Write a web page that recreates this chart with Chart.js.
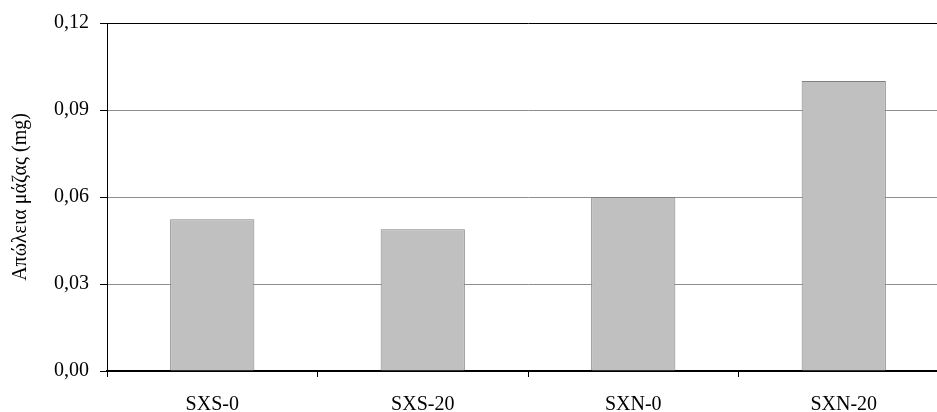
<!DOCTYPE html>
<html lang="el">
<head>
    <meta charset="UTF-8">
    <title>Απώλεια μάζας</title>
    <style>
        html, body { margin: 0; padding: 0; background: #fff; overflow: hidden; }
        #grafico { display: block; }
    </style>
</head>
<body>
    <canvas id="grafico" width="960" height="412"></canvas>

<script src="https://cdn.jsdelivr.net/npm/chart.js"></script>
<script>
// dados
const categorias = ['SXS-0', 'SXS-20', 'SXN-0', 'SXN-20'];
const perdaMassa = [0.0523, 0.0489, 0.06, 0.1];
const yTicks = [0, 0.03, 0.06, 0.09, 0.12];
const yTickLabels = ['0,00', '0,03', '0,06', '0,09', '0,12'];
const tituloY = 'Απώλεια μάζας (mg)';

const fonte = { family: "'Liberation Serif', 'Times New Roman', serif", size: 20 };

const config = {
    type: 'bar',
    data: {
        labels: categorias,
        datasets: [{
            label: tituloY,
            data: perdaMassa,
            backgroundColor: '#c0c0c0',
            borderColor: '#808080',
            borderWidth: 1,
            categoryPercentage: 1,
            barPercentage: 0.4
        }]
    },
    options: {
        responsive: false,
        animation: false,
        layout: { padding: { top: 23, right: 11, left: 0, bottom: 0 } },
        plugins: {
            legend: { display: false },
            tooltip: { enabled: false }
        },
        scales: {
            x: {
                grid: {
                    offset: true,
                    drawOnChartArea: false,
                    drawTicks: true,
                    tickLength: 6,
                    tickColor: '#000'
                },
                border: { color: '#000', width: 2 },
                ticks: { color: '#000', font: fonte, padding: 16, maxRotation: 0 },
                afterFit: function (scale) { scale.height = 41; }
            },
            y: {
                min: 0,
                max: 0.12,
                afterBuildTicks: function (scale) {
                    scale.ticks = yTicks.map(v => ({ value: v }));
                },
                grid: {
                    color: ctx => (ctx.tick && ctx.tick.value === 0.12) ? '#000' : '#8e8e8e',
                    lineWidth: 1,
                    drawTicks: true,
                    tickLength: 7,
                    tickColor: '#000'
                },
                border: { color: '#000', width: 1 },
                ticks: {
                    color: '#000',
                    font: fonte,
                    padding: 11,
                    callback: function (value, index) { return yTickLabels[index]; }
                },
                title: {
                    display: true,
                    text: tituloY,
                    color: '#000',
                    font: fonte,
                    padding: { top: 9, bottom: 0 }
                },
                afterFit: function (scale) { scale.width = 107; }
            }
        }
    }
};

new Chart(document.getElementById('grafico'), config);
</script>
</body>
</html>
